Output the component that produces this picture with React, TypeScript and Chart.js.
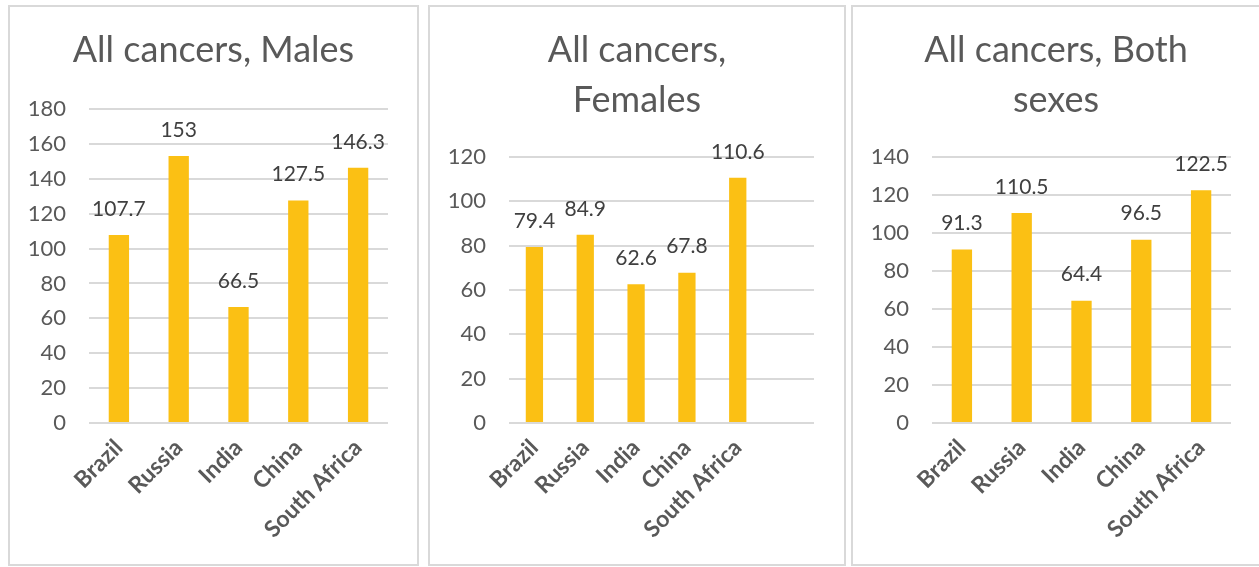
import React, { useEffect, useRef } from "react";
import { Chart, registerables } from "chart.js";

Chart.register(...registerables);

const categories = ["Brazil", "Russia", "India", "China", "South Africa"];
const malesValues = [107.7, 153, 66.5, 127.5, 146.3];
const femalesValues = [79.4, 84.9, 62.6, 67.8, 110.6];
const bothValues = [91.3, 110.5, 64.4, 96.5, 122.5];
// the females chart in the source keeps one empty trailing category
const femalesCategories = [...categories, ""];
const femalesSeries: (number | null)[] = [...femalesValues, null];

const malesTitle = ["All cancers, Males"];
const femalesTitle = ["All cancers,", "Females"];
const bothTitle = ["All cancers, Both", "sexes"];

const malesMax = 180;
const femalesMax = 120;
const bothMax = 140;
const tickStep = 20;

const BAR = "#FBC014";
const TEXT = "#595959";
const LABEL = "#404040";
const GRID = "#d9d9d9";
const FONT = "Lato, 'Open Sans', sans-serif";

const valueLabels = {
  id: "valueLabels",
  afterDatasetsDraw(chart: any) {
    const ctx = chart.ctx;
    const meta = chart.getDatasetMeta(0);
    const data = chart.data.datasets[0].data;
    ctx.save();
    ctx.font = `21px ${FONT}`;
    ctx.fillStyle = LABEL;
    ctx.textAlign = "center";
    ctx.textBaseline = "middle";
    meta.data.forEach((bar: any, i: number) => {
      const v = data[i];
      if (v === null || v === undefined) return;
      ctx.fillText(String(v), bar.x, bar.y - 26);
    });
    ctx.restore();
  },
};

type PanelProps = {
  left: number;
  width: number;
  labels: string[];
  values: (number | null)[];
  title: string[];
  max: number;
  rightPad: number;
  titleBottom: number;
};

function Panel(p: PanelProps) {
  const ref = useRef<HTMLCanvasElement>(null);
  useEffect(() => {
    if (!ref.current) return;
    const chart = new Chart(ref.current, {
      type: "bar",
      data: {
        labels: p.labels,
        datasets: [
          {
            data: p.values,
            backgroundColor: BAR,
            borderWidth: 0,
            categoryPercentage: 1,
            barPercentage: 0.34,
          },
        ],
      },
      plugins: [valueLabels],
      options: {
        animation: false,
        responsive: true,
        maintainAspectRatio: false,
        layout: { padding: 0 },
        plugins: {
          legend: { display: false },
          tooltip: { enabled: false },
          title: {
            display: true,
            text: p.title,
            color: TEXT,
            font: { family: FONT, size: 36, weight: "normal", lineHeight: 1.38 },
            padding: { top: 19, bottom: p.titleBottom },
          },
        },
        scales: {
          x: {
            grid: { display: false, drawTicks: false },
            border: { display: false },
            ticks: {
              color: TEXT,
              font: { family: FONT, size: 23, weight: "bold" },
              minRotation: 45,
              maxRotation: 45,
              padding: 11,
              autoSkip: false,
            },
            afterFit: (s: any) => {
              s.height = 141;
            },
          },
          y: {
            min: 0,
            max: p.max,
            grid: { color: GRID, lineWidth: 2, drawTicks: false },
            border: { display: false },
            ticks: {
              stepSize: tickStep,
              color: TEXT,
              font: { family: FONT, size: 22 },
              padding: 23,
            },
            afterFit: (s: any) => {
              s.width = 79;
            },
          },
          yRight: {
            type: "linear",
            position: "right",
            display: true,
            grid: { display: false, drawTicks: false },
            border: { display: false },
            ticks: { display: false },
            afterFit: (s: any) => {
              s.width = p.rightPad;
            },
          },
        },
      },
    });
    return () => chart.destroy();
  }, []);
  return (
    <div
      style={{
        position: "absolute",
        left: p.left,
        top: 5,
        width: p.width,
        height: 561,
        boxSizing: "border-box",
        border: `2px solid ${GRID}`,
        background: "#fff",
      }}
    >
      <canvas ref={ref} />
    </div>
  );
}

export default function App() {
  return (
    <div
      style={{
        position: "fixed",
        left: 0,
        top: 0,
        width: 1259,
        height: 567,
        overflow: "hidden",
        background: "#fff",
      }}
    >
      <Panel left={8} width={411} labels={categories} values={malesValues} title={malesTitle} max={malesMax} rightPad={29} titleBottom={102 - 19 - 49.68} />
      <Panel left={428} width={418} labels={femalesCategories} values={femalesSeries} title={femalesTitle} max={femalesMax} rightPad={30} titleBottom={150 - 19 - 99.36} />
      <Panel left={851} width={410} labels={categories} values={bothValues} title={bothTitle} max={bothMax} rightPad={28} titleBottom={150 - 19 - 99.36} />
    </div>
  );
}
